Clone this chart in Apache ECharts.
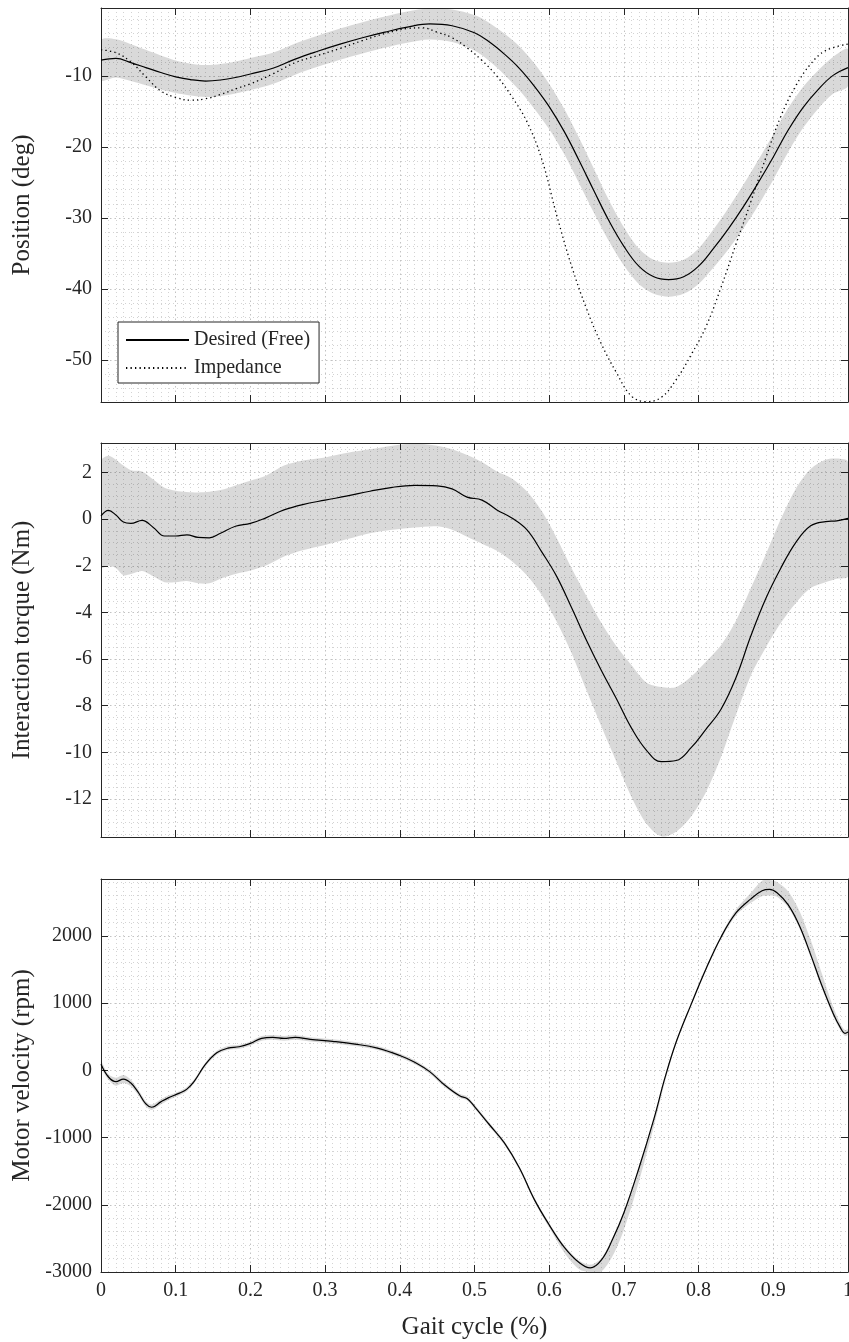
<!DOCTYPE html>
<html>
<head>
<meta charset="utf-8">
<script src="https://cdn.jsdelivr.net/npm/echarts@6/dist/echarts.min.js"></script>
<style>
  html, body { margin: 0; padding: 0; background: #ffffff; }
  #chart { width: 849px; height: 1342px; }
</style>
</head>
<body>
<div id="chart"></div>
<script>
// ---- Knee position (deg) over the gait cycle ----
const posX = [0, 0.02, 0.04, 0.06, 0.08, 0.10, 0.12, 0.14, 0.16, 0.18, 0.20, 0.23, 0.26, 0.29, 0.32, 0.35, 0.38, 0.41, 0.44, 0.47,
  0.50, 0.52, 0.54, 0.56, 0.58, 0.60, 0.62, 0.64, 0.66, 0.68, 0.70, 0.72, 0.74, 0.76, 0.78, 0.80, 0.82, 0.84, 0.86, 0.88,
  0.90, 0.92, 0.94, 0.96, 0.98, 1.0];
const posFree = [-7.75, -7.5, -8.1, -8.8, -9.5, -10.1, -10.5, -10.7, -10.55, -10.2, -9.7, -8.9, -7.6, -6.5, -5.5, -4.6, -3.8, -3.1, -2.65, -2.9,
  -3.9, -5.2, -6.9, -8.9, -11.4, -14.3, -17.8, -21.9, -26.2, -30.4, -34.0, -36.8, -38.3, -38.7, -38.3, -36.8, -34.3, -31.5, -28.4, -25.0,
  -21.4, -17.6, -14.4, -11.9, -9.9, -8.8];
// standard deviation of the free-walking position
const posSpread = [2.8, 2.7, 2.6, 2.5, 2.4, 2.3, 2.25, 2.25, 2.25, 2.25, 2.25, 2.2, 2.2, 2.2, 2.2, 2.2, 2.2, 2.2, 2.2, 2.3,
  2.5, 2.7, 2.9, 3.1, 3.2, 3.2, 3.2, 3.2, 3.1, 2.9, 2.7, 2.5, 2.4, 2.4, 2.4, 2.5, 2.7, 2.9, 3.1, 3.2,
  3.2, 3.1, 2.9, 2.7, 2.6, 2.6];
const impX = [0, 0.02, 0.04, 0.06, 0.08, 0.10, 0.12, 0.14, 0.16, 0.18, 0.20, 0.23, 0.26, 0.29, 0.32, 0.35, 0.38, 0.41, 0.43, 0.45,
  0.47, 0.49, 0.51, 0.53, 0.55, 0.57, 0.59, 0.61, 0.63, 0.65, 0.67, 0.69, 0.71, 0.73, 0.75, 0.77, 0.79, 0.81, 0.83, 0.85,
  0.87, 0.89, 0.91, 0.93, 0.95, 0.97, 1.0];
const posImp = [-6.3, -6.7, -8.0, -10.1, -12.1, -13.0, -13.4, -13.2, -12.6, -11.8, -11.1, -9.7, -8.1, -7.1, -6.1, -5.0, -4.0, -3.3, -3.2, -3.8,
  -4.6, -6.0, -7.8, -10.0, -12.9, -16.4, -21.7, -29.6, -36.8, -42.8, -47.8, -51.8, -55.1, -55.9, -55.3, -52.8, -49.3, -45.3, -39.8, -33.7,
  -27.7, -21.5, -15.7, -11.4, -8.3, -6.4, -5.5];

// ---- Interaction torque (Nm) ----
const tqX = [0, 0.01, 0.02, 0.03, 0.04, 0.055, 0.07, 0.085, 0.10, 0.115, 0.13, 0.145, 0.16, 0.18, 0.20, 0.22, 0.245, 0.27, 0.30, 0.33,
  0.36, 0.39, 0.42, 0.45, 0.47, 0.49, 0.51, 0.53, 0.55, 0.57, 0.59, 0.61, 0.63, 0.65, 0.67, 0.69, 0.71, 0.73, 0.75, 0.77,
  0.79, 0.81, 0.83, 0.85, 0.87, 0.89, 0.91, 0.93, 0.95, 0.97, 0.985, 1.0];
const tqFree = [0.14, 0.38, 0.18, -0.12, -0.18, -0.05, -0.35, -0.72, -0.72, -0.67, -0.78, -0.8, -0.6, -0.3, -0.18, 0.05, 0.4, 0.63, 0.82, 1.0,
  1.2, 1.37, 1.45, 1.43, 1.3, 0.95, 0.82, 0.4, 0.05, -0.45, -1.4, -2.45, -3.8, -5.2, -6.5, -7.7, -8.95, -9.9, -10.4, -10.35,
  -9.8, -9.0, -8.15, -6.8, -5.0, -3.4, -2.1, -1.0, -0.28, -0.1, -0.07, 0.04];
const tqHi = [2.5, 2.72, 2.55, 2.3, 2.1, 2.05, 1.7, 1.35, 1.22, 1.17, 1.15, 1.18, 1.25, 1.45, 1.65, 1.85, 2.3, 2.52, 2.65, 2.85,
  3.0, 3.15, 3.25, 3.15, 3.0, 2.75, 2.45, 2.05, 1.75, 1.2, 0.35, -0.8, -2.1, -3.3, -4.45, -5.45, -6.25, -7.0, -7.2, -7.2,
  -6.75, -6.1, -5.4, -4.35, -2.95, -1.5, 0.0, 1.3, 2.15, 2.55, 2.6, 2.45];
const tqLo = [-2.07, -2.0, -2.1, -2.4, -2.35, -2.22, -2.45, -2.7, -2.7, -2.65, -2.75, -2.75, -2.55, -2.35, -2.2, -2.0, -1.6, -1.33, -1.1, -0.85,
  -0.6, -0.45, -0.35, -0.3, -0.45, -0.75, -1.05, -1.35, -1.8, -2.4, -3.25, -4.4, -5.75, -7.35, -8.9, -10.4, -11.9, -13.05, -13.6, -13.4,
  -12.75, -11.7, -10.2, -8.4, -6.7, -5.5, -4.45, -3.6, -2.95, -2.7, -2.55, -2.45];

// ---- Motor velocity (rpm) ----
const velX = [0, 0.01, 0.02, 0.03, 0.04, 0.05, 0.06, 0.068, 0.08, 0.09, 0.105, 0.115, 0.125, 0.14, 0.155, 0.17, 0.185, 0.20, 0.215, 0.23,
  0.245, 0.26, 0.28, 0.31, 0.34, 0.37, 0.40, 0.42, 0.44, 0.46, 0.48, 0.49, 0.50, 0.52, 0.54, 0.56, 0.58, 0.60, 0.62, 0.64,
  0.655, 0.67, 0.685, 0.70, 0.72, 0.74, 0.755, 0.77, 0.79, 0.81, 0.83, 0.85, 0.87, 0.885, 0.895, 0.905, 0.92, 0.935, 0.95, 0.965,
  0.98, 0.99, 0.996, 1.0];
const velFree = [90, -100, -170, -130, -190, -330, -500, -550, -470, -410, -340, -280, -160, 90, 260, 330, 350, 400, 475, 490,
  475, 490, 460, 430, 390, 330, 220, 120, -20, -220, -380, -420, -540, -810, -1080, -1450, -1920, -2300, -2630, -2860,
  -2940, -2820, -2510, -2120, -1460, -730, -110, 420, 980, 1510, 1980, 2340, 2550, 2670, 2690, 2640, 2460, 2150, 1720, 1260,
  850, 630, 550, 570];
const velLo = [40, -140, -230, -190, -240, -370, -540, -590, -510, -445, -370, -310, -190, 60, 230, 300, 320, 370, 440, 455,
  440, 455, 430, 400, 360, 300, 190, 90, -50, -250, -410, -450, -570, -840, -1110, -1480, -1950, -2340, -2710, -2960,
  -3000, -2990, -2760, -2370, -1660, -840, -170, 390, 950, 1480, 1950, 2300, 2490, 2590, 2600, 2580, 2420, 2110, 1680, 1220,
  810, 590, 510, 530];
const velHi = [140, -60, -110, -70, -140, -290, -460, -510, -430, -375, -310, -250, -130, 120, 290, 360, 380, 430, 510, 525,
  510, 525, 490, 460, 420, 360, 250, 150, 10, -190, -350, -390, -510, -780, -1050, -1420, -1890, -2270, -2600, -2830,
  -2890, -2790, -2480, -2090, -1430, -700, -80, 450, 1010, 1540, 2010, 2390, 2640, 2820, 2830, 2800, 2660, 2370, 1940, 1440,
  950, 690, 600, 610];

const FONT = 'Liberation Serif';
const AX = '#262626';
const BAND = 'rgba(0,0,0,0.15)';
const GRID_MAJOR = { color: '#c2c2c2', width: 1, type: [1.5, 3] };
const GRID_MINOR = { color: '#d3d3d3', width: 1, type: [1, 3] };

const panels = [
  { top: 8,   height: 394, min: -55.95, max: -0.4, step: 10,   minor: 5, name: 'Position (deg)',         minLabel: false },
  { top: 443, height: 394, min: -13.63, max: 3.27, step: 2,    minor: 4, name: 'Interaction torque (Nm)', minLabel: false },
  { top: 879, height: 393, min: -3000,  max: 2845, step: 1000, minor: 5, name: 'Motor velocity (rpm)',    minLabel: true }
];

const fmt = v => String(Math.round(v * 1000) / 1000);

const grids = [], xAxes = [], yAxes = [];
panels.forEach((p, i) => {
  grids.push({ left: 101, width: 747, top: p.top, height: p.height, containLabel: false, outerBoundsMode: 'none' });
  const last = i === panels.length - 1;
  // bottom x axis with grid
  xAxes.push({
    type: 'value', gridIndex: i, min: 0, max: 1, interval: 0.1, position: 'bottom',
    axisLine: { show: true, onZero: false, lineStyle: { color: AX, width: 1 } },
    axisTick: { show: true, inside: true, length: 7, lineStyle: { color: AX } },
    axisLabel: { show: last, margin: 9, fontFamily: FONT, fontSize: 20, color: AX, formatter: fmt },
    splitLine: { show: true, lineStyle: GRID_MAJOR },
    minorTick: { show: false, splitNumber: 10 },
    minorSplitLine: { show: true, lineStyle: GRID_MINOR },
    name: last ? 'Gait cycle (%)' : '', nameLocation: 'middle', nameGap: 43,
    nameTextStyle: { fontFamily: FONT, fontSize: 25, color: AX }
  });
  // top x axis closing the box
  xAxes.push({
    type: 'value', gridIndex: i, min: 0, max: 1, interval: 0.1, position: 'top',
    axisLine: { show: true, onZero: false, lineStyle: { color: AX, width: 1 } },
    axisTick: { show: true, inside: true, length: 7, lineStyle: { color: AX } },
    axisLabel: { show: false }, splitLine: { show: false }
  });
  // left y axis with grid
  yAxes.push({
    type: 'value', gridIndex: i, min: p.min, max: p.max, minInterval: p.step, maxInterval: p.step, splitNumber: 5,
    position: 'left',
    axisLine: { show: true, onZero: false, lineStyle: { color: AX, width: 1 } },
    axisTick: { show: true, inside: true, length: 7, lineStyle: { color: AX } },
    axisLabel: { show: true, margin: 9, fontFamily: FONT, fontSize: 20, color: AX, formatter: fmt,
      showMinLabel: p.minLabel, showMaxLabel: false },
    splitLine: { show: true, lineStyle: GRID_MAJOR },
    minorTick: { show: false, splitNumber: p.minor },
    minorSplitLine: { show: true, lineStyle: GRID_MINOR },
    name: p.name, nameLocation: 'middle', nameGap: 66,
    nameTextStyle: { fontFamily: FONT, fontSize: 25, color: AX }
  });
  // right y axis closing the box
  yAxes.push({
    type: 'value', gridIndex: i, min: p.min, max: p.max, minInterval: p.step, maxInterval: p.step, splitNumber: 5,
    position: 'right',
    axisLine: { show: true, onZero: false, lineStyle: { color: AX, width: 1 } },
    axisTick: { show: true, inside: true, length: 7, lineStyle: { color: AX } },
    axisLabel: { show: false }, splitLine: { show: false }
  });
});

const pairs = (xs, ys) => xs.map((x, i) => [x, ys[i]]);

function bandSeries(panel, xs, lo, hi) {
  return {
    type: 'custom', name: 'band' + panel, xAxisIndex: panel * 2, yAxisIndex: panel * 2,
    clip: true, silent: true, z: 1,
    data: xs.map((x, i) => [x, lo[i], hi[i]]),
    encode: { x: 0, y: [1, 2] },
    renderItem(params, api) {
      if (params.dataIndex !== 0) return null;
      const upper = xs.map((x, i) => api.coord([x, hi[i]]));
      const lower = xs.map((x, i) => api.coord([x, lo[i]])).reverse();
      return {
        type: 'polygon',
        shape: { points: upper.concat(lower), smooth: 0.3 },
        style: { fill: BAND }
      };
    }
  };
}

function lineSeries(panel, name, xs, ys, style) {
  return {
    type: 'line', name, xAxisIndex: panel * 2, yAxisIndex: panel * 2,
    data: pairs(xs, ys), symbol: 'none', showSymbol: false, smooth: 0.4, clip: true, z: 3,
    color: '#000000',
    lineStyle: Object.assign({ color: '#000000', width: 1.2 }, style)
  };
}

const posLo = posFree.map((v, i) => v - posSpread[i]);
const posHi = posFree.map((v, i) => v + posSpread[i]);

const option = {
  animation: false,
  backgroundColor: '#ffffff',
  grid: grids,
  xAxis: xAxes,
  yAxis: yAxes,
  legend: {
    data: ['Desired (Free)', 'Impedance'],
    orient: 'vertical', left: 118, top: 322,
    itemWidth: 63, itemHeight: 20, itemGap: 8,
    padding: [8, 9, 5, 7],
    backgroundColor: '#ffffff', borderColor: AX, borderWidth: 1, borderRadius: 0,
    itemStyle: { opacity: 0 },
    textStyle: { fontFamily: FONT, fontSize: 20, color: AX, lineHeight: 20 },
    selectedMode: false
  },
  series: [
    bandSeries(0, posX, posLo, posHi),
    lineSeries(0, 'Desired (Free)', posX, posFree, {}),
    lineSeries(0, 'Impedance', impX, posImp, { type: [1.3, 3.2], width: 1.3 }),
    bandSeries(1, tqX, tqLo, tqHi),
    lineSeries(1, 'torque', tqX, tqFree, {}),
    bandSeries(2, velX, velLo, velHi),
    lineSeries(2, 'velocity', velX, velFree, {})
  ]
};

const chart = echarts.init(document.getElementById('chart'), null, { renderer: 'canvas' });
chart.setOption(option);
</script>
</body>
</html>
